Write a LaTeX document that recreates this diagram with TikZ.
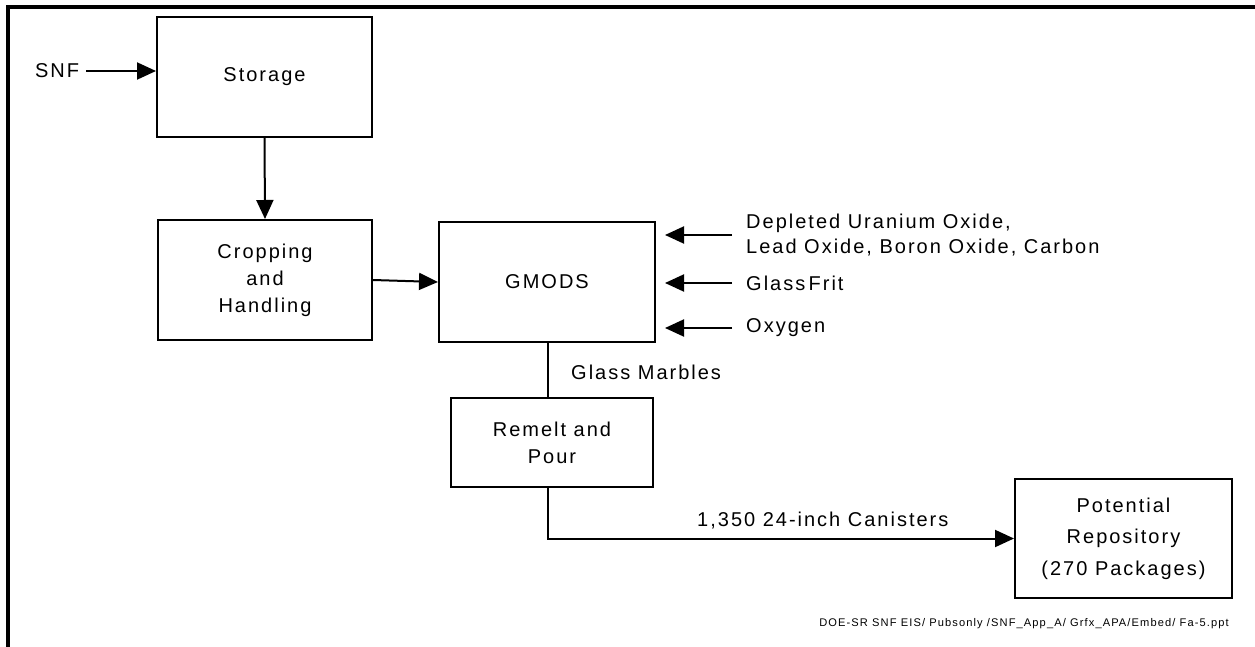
\documentclass[tikz,border=0pt]{standalone}
\usepackage{fontspec}
\setmainfont{Liberation Sans}[LetterSpace=10]
\usetikzlibrary{arrows.meta}
\tikzset{
  box/.style={draw, line width=2pt, inner sep=0pt, align=center},
  lbl/.style={inner sep=0pt},
  conn/.style={line width=2pt},
  arr/.style={conn, -{Triangle[length=19pt,width=17pt]}},
}
\newcommand{\fs}[1]{\fontsize{20}{#1}\selectfont}
\begin{document}
\begin{tikzpicture}[x=1pt,y=-1pt]
\useasboundingbox (0,0) rectangle (1255,647);
\draw[line width=4pt] (8,649) -- (8,7) -- (1257,7);

\node[box, minimum width=215pt, minimum height=120pt, font=\fs{27}] (storage) at (264.5,77) {Storage};
\node[box, minimum width=214pt, minimum height=120pt, font=\fs{27}] (crop) at (265,280) {Cropping\\and\\Handling};
\node[box, minimum width=216pt, minimum height=120pt, font=\fs{27}] (gmods) at (547,282) {GMODS};
\node[box, minimum width=202pt, minimum height=89pt, font=\fs{27}] (remelt) at (552,442.5) {Remelt and\\Pour};
\node[box, minimum width=217pt, minimum height=119pt, font=\fs{31.5}] (pot) at (1123.5,538.5) {Potential\\Repository\\(270 Packages)};

\node[lbl, font=\fs{27}] (snf) at (57,71) {SNF};
\draw[arr] ([xshift=7pt]snf.east) -- (snf.east -| storage.west);
\draw[arr] (storage.south) -- (crop.north);
\draw[arr] (crop.east) -- (gmods.west);

\coordinate (in1) at (732,235);
\coordinate (in2) at (732,283);
\coordinate (in3) at (732,328);
\draw[arr, shorten >=9pt] (in1) -- (in1 -| gmods.east);
\draw[arr, shorten >=9pt] (in2) -- (in2 -| gmods.east);
\draw[arr, shorten >=9pt] (in3) -- (in3 -| gmods.east);
\node[lbl, anchor=west, align=left, font=\fs{25.5}] (t1) at (746,235) {Depleted Uranium Oxide,\\Lead Oxide, Boron Oxide, Carbon};
\node[lbl, anchor=west, font=\fs{25}] (t2) at (746,283) {Glass\,Frit};
\node[lbl, anchor=west, font=\fs{25}] (t3) at (746,328) {Oxygen};

\draw[conn] (gmods.south -| 548,0) -- (548,398);
\node[lbl, anchor=west, font=\fs{25}] (gm) at (571,372) {Glass Marbles};

\coordinate (rb) at (548,487);
\draw[arr] (rb) |- (pot.west);
\node[lbl, anchor=west, font=\fs{25}] (can) at (697,521) {1,350 24-inch Canisters};

\node[lbl, anchor=east, font=\fontsize{11.1}{13}\selectfont] (foot) at (1229,624) {DOE-SR SNF EIS/ Pubsonly /SNF\_App\_A/ Grfx\_APA/Embed/ Fa-5.ppt};
\end{tikzpicture}
\end{document}
